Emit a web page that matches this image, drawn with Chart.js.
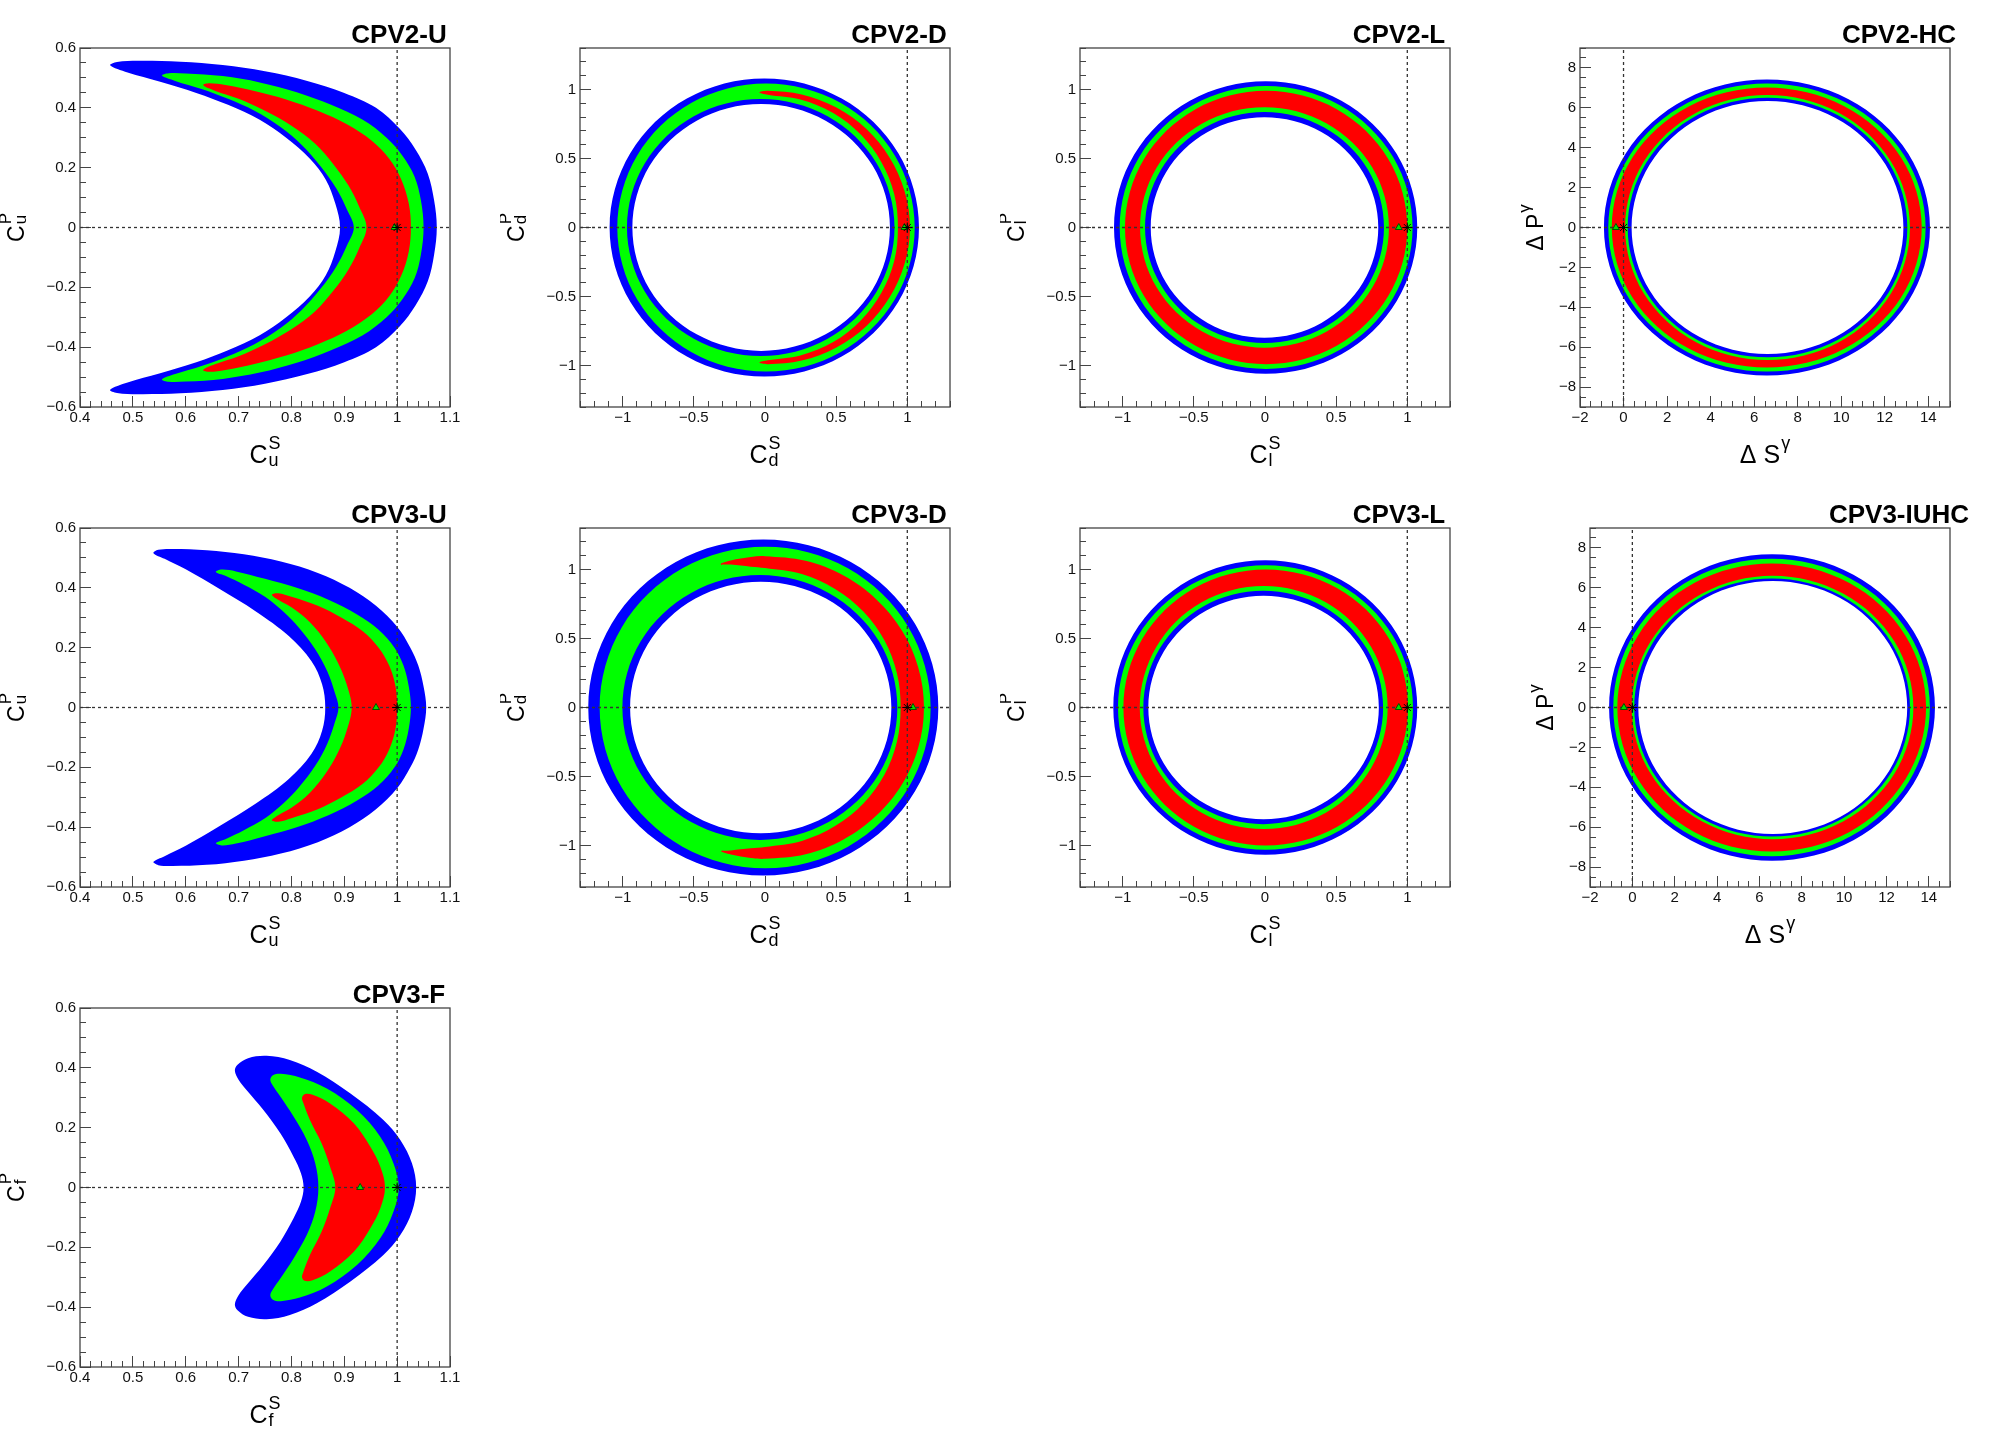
<!DOCTYPE html>
<html>
<head>
<meta charset="utf-8">
<script src="https://cdn.jsdelivr.net/npm/chart.js@4.4.1/dist/chart.umd.min.js"></script>
<style>
  body { margin: 0; background: #fff; width: 2000px; height: 1440px; position: relative; overflow: hidden; }
  canvas { position: absolute; }
</style>
</head>
<body>
<script>
// Contour outlines. Each array is the upper half (y >= 0) of one
// boundary; the plots are symmetric in y, so the lower half is its mirror image.
// Crescents: outer edge from y=0 up to the tip, then the inner edge back down to y=0.
// Rings: ellipse-like boundary from the right (y=0) over the top to the left (y=0).

// CPV2-U
const u2Blue = [[1.075,0],[1.07,0.09],[1.058,0.18],[1.035,0.26],[1.005,0.33],[0.96,0.40],[0.90,0.45],[0.83,0.49],[0.75,0.522],[0.67,0.543],[0.59,0.554],[0.51,0.557],[0.47,0.553],[0.457,0.542],
  [0.49,0.518],[0.55,0.488],[0.62,0.45],[0.68,0.41],[0.74,0.36],[0.79,0.30],[0.835,0.23],[0.865,0.16],[0.883,0.08],[0.892,0]]
const u2Green = [[1.05,0],[1.045,0.09],[1.033,0.17],[1.01,0.24],[0.98,0.30],[0.935,0.36],[0.875,0.41],[0.81,0.452],[0.74,0.485],[0.67,0.506],[0.60,0.515],[0.568,0.516],[0.555,0.508],
  [0.58,0.49],[0.63,0.463],[0.68,0.43],[0.73,0.39],[0.78,0.335],[0.82,0.275],[0.855,0.205],[0.885,0.13],[0.905,0.06],[0.918,0]]
const u2Red = [[1.026,0],[1.022,0.08],[1.008,0.16],[0.985,0.23],[0.952,0.29],[0.905,0.345],[0.85,0.39],[0.79,0.428],[0.73,0.456],[0.675,0.476],[0.645,0.482],[0.633,0.476],
  [0.655,0.457],[0.70,0.43],[0.75,0.39],[0.80,0.34],[0.845,0.28],[0.88,0.21],[0.908,0.14],[0.928,0.07],[0.942,0]]

// CPV2-D
const d2BlueOut = [[1.082,0],[0.936,0.54],[0.539,0.935],[-0.005,1.08],[-0.549,0.935],[-0.946,0.54],[-1.092,0]]
const d2GreenOut = [[1.052,0],[0.912,0.522],[0.530,0.903],[0.007,1.043],[-0.516,0.903],[-0.898,0.522],[-1.038,0]]
const d2GreenIn = [[0.91,0],[0.784,0.465],[0.44,0.805],[-0.03,0.93],[-0.50,0.805],[-0.844,0.465],[-0.97,0]]
const d2Hole = [[0.878,0],[0.757,0.447],[0.426,0.774],[-0.027,0.894],[-0.48,0.774],[-0.811,0.447],[-0.932,0]]
const d2Red = [[1.019,0],[0.981,0.263],[0.876,0.506],[0.713,0.713],[0.502,0.869],[0.258,0.964],[0.02,0.99],[-0.04,0.978],
  [0.02,0.962],[0.248,0.927],[0.479,0.83],[0.673,0.673],[0.818,0.473],[0.908,0.243],[0.934,0]]

// CPV2-L
const l2BlueOut = [[1.07,0],[0.927,0.53],[0.537,0.918],[0.005,1.06],[-0.528,0.918],[-0.918,0.53],[-1.061,0]]
const l2GreenOut = [[1.037,0],[0.899,0.512],[0.523,0.887],[0.008,1.024],[-0.507,0.887],[-0.883,0.512],[-1.021,0]]
const l2RedOut = [[1.0,0],[0.867,0.495],[0.504,0.857],[0.008,0.99],[-0.488,0.857],[-0.851,0.495],[-0.984,0]]
const l2RedIn = [[0.871,0],[0.754,0.435],[0.434,0.753],[-0.004,0.87],[-0.441,0.753],[-0.761,0.435],[-0.878,0]]
const l2GreenIn = [[0.836,0],[0.724,0.418],[0.416,0.724],[-0.004,0.836],[-0.423,0.724],[-0.731,0.418],[-0.843,0]]
const l2Hole = [[0.796,0],[0.689,0.399],[0.396,0.691],[-0.004,0.798],[-0.403,0.691],[-0.696,0.399],[-0.803,0]]

// CPV2-HC
const h2BlueOut = [[14.08,0],[13.08,3.71],[10.34,6.43],[6.59,7.42],[2.85,6.43],[0.10,3.71],[-0.90,0]]
const h2GreenOut = [[13.88,0],[12.90,3.61],[10.24,6.25],[6.59,7.22],[2.95,6.25],[0.28,3.61],[-0.70,0]]
const h2RedOut = [[13.70,0],[12.75,3.51],[10.14,6.08],[6.58,7.02],[3.02,6.08],[0.41,3.51],[-0.54,0]]
const h2RedIn = [[13.16,0],[12.28,3.32],[9.89,5.75],[6.61,6.64],[3.34,5.75],[0.94,3.32],[0.07,0]]
const h2GreenIn = [[13.04,0],[12.18,3.26],[9.83,5.64],[6.62,6.51],[3.40,5.64],[1.05,3.26],[0.19,0]]
const h2Hole = [[12.86,0],[12.03,3.17],[9.74,5.49],[6.62,6.34],[3.50,5.49],[1.21,3.17],[0.37,0]]

// CPV3-U
const u3Blue = [[1.055,0],[1.05,0.07],[1.04,0.14],[1.025,0.2],[1.0,0.27],[0.96,0.34],[0.91,0.40],[0.85,0.45],[0.78,0.488],[0.71,0.512],[0.64,0.526],[0.575,0.53],[0.548,0.527],[0.539,0.516],
  [0.56,0.497],[0.60,0.462],[0.665,0.395],[0.732,0.322],[0.795,0.239],[0.838,0.155],[0.858,0.078],[0.864,0]]
const u3Green = [[1.026,0],[1.022,0.07],[1.012,0.14],[0.995,0.2],[0.965,0.26],[0.925,0.31],[0.87,0.36],[0.81,0.40],[0.75,0.43],[0.695,0.455],[0.668,0.461],[0.657,0.453],
  [0.675,0.44],[0.71,0.41],[0.75,0.37],[0.785,0.32],[0.815,0.265],[0.845,0.195],[0.868,0.12],[0.882,0.05],[0.889,0]]
const u3Red = [[1.0,0],[0.997,0.07],[0.985,0.14],[0.965,0.2],[0.935,0.255],[0.895,0.3],[0.85,0.34],[0.80,0.37],[0.775,0.382],[0.763,0.377],
  [0.775,0.36],[0.80,0.335],[0.835,0.285],[0.865,0.22],[0.888,0.15],[0.904,0.08],[0.914,0]]

// CPV3-D
const d3BlueOut = [[1.218,0],[1.053,0.609],[0.603,1.054],[-0.012,1.217],[-0.627,1.054],[-1.077,0.609],[-1.242,0]]
const d3GreenOut = [[1.164,0],[1.008,0.582],[0.583,1.008],[0.001,1.164],[-0.58,1.008],[-1.006,0.582],[-1.162,0]]
const d3GreenIn = [[0.93,0],[0.801,0.48],[0.447,0.83],[-0.036,0.959],[-0.519,0.83],[-0.873,0.48],[-1.002,0]]
const d3Hole = [[0.888,0],[0.765,0.456],[0.429,0.789],[-0.03,0.911],[-0.489,0.789],[-0.825,0.456],[-0.948,0]]
const d3Red = [[1.117,0],[1.077,0.289],[0.963,0.556],[0.783,0.783],[0.552,0.956],[0.285,1.063],[0,1.096],[-0.1,1.09],[-0.24,1.065],[-0.311,1.04],
  [-0.24,1.035],[-0.1,1.02],[0,1.01],[0.259,0.966],[0.495,0.857],[0.693,0.693],[0.84,0.485],[0.927,0.248],[0.953,0]]

// CPV3-L
const l3BlueOut = [[1.07,0],[0.927,0.534],[0.536,0.924],[0.002,1.067],[-0.532,0.924],[-0.923,0.534],[-1.066,0]]
const l3GreenOut = [[1.04,0],[0.9,0.516],[0.522,0.893],[0.004,1.031],[-0.515,0.893],[-0.894,0.516],[-1.033,0]]
const l3RedOut = [[1.005,0],[0.871,0.5],[0.505,0.866],[0.005,1.0],[-0.495,0.866],[-0.861,0.5],[-0.995,0]]
const l3RedIn = [[0.862,0],[0.745,0.44],[0.427,0.762],[-0.009,0.88],[-0.445,0.762],[-0.763,0.44],[-0.88,0]]
const l3GreenIn = [[0.83,0],[0.717,0.423],[0.409,0.732],[-0.013,0.845],[-0.434,0.732],[-0.742,0.423],[-0.855,0]]
const l3Hole = [[0.80,0],[0.691,0.405],[0.395,0.701],[-0.01,0.81],[-0.415,0.701],[-0.711,0.405],[-0.82,0]]

// CPV3-IUHC
const h3BlueOut = [[14.29,0],[13.26,3.85],[10.44,6.66],[6.60,7.69],[2.75,6.66],[-0.07,3.85],[-1.10,0]]
const h3GreenOut = [[14.05,0],[13.05,3.73],[10.31,6.46],[6.58,7.46],[2.84,6.46],[0.10,3.73],[-0.90,0]]
const h3RedOut = [[13.87,0],[12.89,3.61],[10.23,6.25],[6.58,7.22],[2.94,6.25],[0.27,3.61],[-0.71,0]]
const h3RedIn = [[13.27,0],[12.38,3.31],[9.95,5.72],[6.62,6.61],[3.30,5.72],[0.86,3.31],[-0.03,0]]
const h3GreenIn = [[13.11,0],[12.24,3.24],[9.86,5.60],[6.60,6.47],[3.35,5.60],[0.96,3.24],[0.09,0]]
const h3Hole = [[12.98,0],[12.13,3.17],[9.81,5.49],[6.63,6.34],[3.46,5.49],[1.13,3.17],[0.28,0]]

// CPV3-F
const f3Blue = [[1.036,0],[1.028,0.081],[1.006,0.159],[0.974,0.226],[0.911,0.315],[0.848,0.387],[0.797,0.426],[0.753,0.44],[0.718,0.432],[0.698,0.41],[0.693,0.39],
  [0.70,0.36],[0.715,0.326],[0.747,0.259],[0.779,0.181],[0.804,0.103],[0.818,0.048],[0.823,0]]
const f3Green = [[1.003,0],[0.993,0.081],[0.968,0.17],[0.924,0.259],[0.867,0.331],[0.816,0.368],[0.78,0.38],[0.765,0.375],[0.76,0.36],
  [0.765,0.34],[0.779,0.304],[0.804,0.237],[0.829,0.159],[0.845,0.081],[0.851,0]]
const f3Red = [[0.977,0],[0.968,0.07],[0.949,0.137],[0.918,0.215],[0.873,0.281],[0.84,0.31],[0.825,0.312],[0.82,0.3],
  [0.822,0.285],[0.835,0.226],[0.857,0.148],[0.873,0.07],[0.883,0]]

// best-fit points (green triangles) and SM points (stars), panel order
const bestFitX = [0.995, 0.98, 0.94, -0.35, 0.96, 1.04, 0.94, -0.4, 0.93]
const bestFitY = [0, 0, 0, 0, 0, 0, 0, 0, 0]
const smX = [1, 1, 1, 0, 1, 1, 1, 0, 1]
const smY = [0, 0, 0, 0, 0, 0, 0, 0, 0]

// tick labels
const uTicksX = [0.4, 0.5, 0.6, 0.7, 0.8, 0.9, 1, 1.1]
const uTicksY = [-0.6, -0.4, -0.2, 0, 0.2, 0.4, 0.6]
const dTicks = [-1, -0.5, 0, 0.5, 1]
const hTicksX = [-2, 0, 2, 4, 6, 8, 10, 12, 14]
const hTicksY = [-8, -6, -4, -2, 0, 2, 4, 6, 8]

const FONT = '"Liberation Sans", Arial, Helvetica, sans-serif'
const BLUE = '#0000ff', GREEN = '#00ff00', RED = '#ff0000', WHITE = '#ffffff'

// axis range, minor step, major tick list
const axisKinds = {
  u: { x: [0.4, 1.1], xm: 0.02, xt: uTicksX, y: [-0.6, 0.6], ym: 0.05, yt: uTicksY },
  d: { x: [-1.3, 1.3], xm: 0.1, xt: dTicks, y: [-1.3, 1.3], ym: 0.1, yt: dTicks },
  h: { x: [-2, 15], xm: 0.5, xt: hTicksX, y: [-9, 9], ym: 0.5, yt: hTicksY },
}

const ringLayers = (bo, go, ro, ri, gi, ho) => [[bo, BLUE], [go, GREEN], [ro, RED], [ri, GREEN], [gi, BLUE], [ho, WHITE]]

const panels = [
  { title: 'CPV2-U', col: 0, row: 0, kind: 'u', left: 80, ytX: 24,
    layers: [[u2Blue, BLUE], [u2Green, GREEN], [u2Red, RED]],
    xl: { main: 'C', sub: 'u', sup: 'S' }, yl: { main: 'C', sub: 'u', sup: 'P' } },
  { title: 'CPV2-D', col: 1, row: 0, kind: 'd', left: 80, ytX: 24,
    layers: [[d2BlueOut, BLUE], [d2GreenOut, GREEN], [d2GreenIn, BLUE], [d2Hole, WHITE], [d2Red, RED]],
    xl: { main: 'C', sub: 'd', sup: 'S' }, yl: { main: 'C', sub: 'd', sup: 'P' } },
  { title: 'CPV2-L', col: 2, row: 0, kind: 'd', left: 80, ytX: 24,
    layers: ringLayers(l2BlueOut, l2GreenOut, l2RedOut, l2RedIn, l2GreenIn, l2Hole),
    xl: { main: 'C', sub: 'l', sup: 'S' }, yl: { main: 'C', sub: 'l', sup: 'P' } },
  { title: 'CPV2-HC', col: 3, row: 0, kind: 'h', left: 80, ytX: 43,
    layers: ringLayers(h2BlueOut, h2GreenOut, h2RedOut, h2RedIn, h2GreenIn, h2Hole),
    xl: { main: '\u0394 S', sup: '\u03b3' }, yl: { main: '\u0394 P', sup: '\u03b3' } },
  { title: 'CPV3-U', col: 0, row: 1, kind: 'u', left: 80, ytX: 24,
    layers: [[u3Blue, BLUE], [u3Green, GREEN], [u3Red, RED]],
    xl: { main: 'C', sub: 'u', sup: 'S' }, yl: { main: 'C', sub: 'u', sup: 'P' } },
  { title: 'CPV3-D', col: 1, row: 1, kind: 'd', left: 80, ytX: 24,
    layers: [[d3BlueOut, BLUE], [d3GreenOut, GREEN], [d3GreenIn, BLUE], [d3Hole, WHITE], [d3Red, RED]],
    xl: { main: 'C', sub: 'd', sup: 'S' }, yl: { main: 'C', sub: 'd', sup: 'P' } },
  { title: 'CPV3-L', col: 2, row: 1, kind: 'd', left: 80, ytX: 24,
    layers: ringLayers(l3BlueOut, l3GreenOut, l3RedOut, l3RedIn, l3GreenIn, l3Hole),
    xl: { main: 'C', sub: 'l', sup: 'S' }, yl: { main: 'C', sub: 'l', sup: 'P' } },
  { title: 'CPV3-IUHC', col: 3, row: 1, kind: 'h', left: 90, ytX: 53,
    layers: ringLayers(h3BlueOut, h3GreenOut, h3RedOut, h3RedIn, h3GreenIn, h3Hole),
    xl: { main: '\u0394 S', sup: '\u03b3' }, yl: { main: '\u0394 P', sup: '\u03b3' } },
  { title: 'CPV3-F', col: 0, row: 2, kind: 'u', left: 80, ytX: 24,
    layers: [[f3Blue, BLUE], [f3Green, GREEN], [f3Red, RED]],
    xl: { main: 'C', sub: 'f', sup: 'S' }, yl: { main: 'C', sub: 'f', sup: 'P' } },
]

// upper half -> closed loop (mirror in y), plus three repeated points so the spline closes smoothly
function loop(half) {
  const top = half.map(([x, y]) => ({ x, y }))
  const bottom = half.slice(1, -1).reverse().map(([x, y]) => ({ x, y: -y }))
  const pts = top.concat(bottom)
  return pts.concat(pts.slice(0, 3))
}

const fmt = v => String(+Number(v).toFixed(3)).replace('-', '\u2212')

function scriptText(ctx, t, size, cx, base) {
  const small = Math.round(size * 0.72)
  ctx.font = `${size}px ${FONT}`
  const wMain = ctx.measureText(t.main).width
  ctx.font = `${small}px ${FONT}`
  const wSub = t.sub ? ctx.measureText(t.sub).width : 0
  const wSup = t.sup ? ctx.measureText(t.sup).width : 0
  const x0 = cx - (wMain + 1 + Math.max(wSub, wSup)) / 2
  ctx.textAlign = 'left'
  ctx.textBaseline = 'alphabetic'
  ctx.font = `${size}px ${FONT}`
  ctx.fillText(t.main, x0, base)
  ctx.font = `${small}px ${FONT}`
  if (t.sup) ctx.fillText(t.sup, x0 + wMain + 1, base - size * 0.55)
  if (t.sub) ctx.fillText(t.sub, x0 + wMain + 1, base + size * 0.1)
}

function drawDecor(chart, p) {
  const { ctx, chartArea: a } = chart
  ctx.save()
  ctx.strokeStyle = '#444'
  ctx.lineWidth = 1.3
  ctx.strokeRect(a.left, a.top, a.right - a.left, a.bottom - a.top)
  ctx.fillStyle = '#000'
  ctx.font = `bold 26px ${FONT}`
  ctx.textAlign = 'center'
  ctx.textBaseline = 'alphabetic'
  ctx.fillText(p.title, 399, 43)
  scriptText(ctx, p.xl, 25, (a.left + a.right) / 2, 463)
  ctx.translate(p.ytX, (a.top + a.bottom) / 2)
  ctx.rotate(-Math.PI / 2)
  scriptText(ctx, p.yl, 23, 0, 0)
  ctx.restore()
}

function majorAxis(axis, range, ticks, size, pos) {
  return {
    type: 'linear', axis, position: pos, weight: 1, min: range[0], max: range[1],
    afterBuildTicks: s => { s.ticks = ticks.map(v => ({ value: v })) },
    afterFit: s => { if (axis === 'x') s.height = size; else s.width = size },
    grid: { drawOnChartArea: false, drawTicks: true, tickLength: -11, color: '#444', lineWidth: 1 },
    border: { display: false },
    ticks: {
      autoSkip: false, maxRotation: 0, minRotation: 0, padding: axis === 'x' ? 13 : 15,
      color: '#111', font: { family: FONT, size: 15 }, callback: fmt,
    },
  }
}

function minorAxis(axis, range, step, pos) {
  return {
    type: 'linear', axis, position: pos, weight: 0, min: range[0], max: range[1],
    afterFit: s => { if (axis === 'x') s.height = 0; else s.width = 0 },
    grid: { drawOnChartArea: false, drawTicks: true, tickLength: -6, color: '#444', lineWidth: 1 },
    border: { display: false },
    ticks: { display: false, stepSize: step, autoSkip: false },
  }
}

panels.forEach((p, i) => {
  const ax = axisKinds[p.kind]
  const refX = p.kind === 'h' ? 0 : 1
  const sets = []

  p.layers.forEach(([half, color]) => {
    sets.push({
      data: loop(half), showLine: true, fill: 'shape', backgroundColor: color, borderColor: color,
      borderWidth: 0, pointRadius: 0, pointHoverRadius: 0, tension: 0.35,
    })
  })

  // dotted reference lines
  const ref = { showLine: true, fill: false, borderColor: '#333', borderWidth: 1.3, borderDash: [3, 3], pointRadius: 0, tension: 0 }
  sets.push({ ...ref, data: [{ x: ax.x[0], y: 0 }, { x: ax.x[1], y: 0 }] })
  sets.push({ ...ref, data: [{ x: refX, y: ax.y[0] }, { x: refX, y: ax.y[1] }] })

  sets.push({
    data: [{ x: bestFitX[i], y: bestFitY[i] }], showLine: false, pointStyle: 'triangle',
    pointRadius: 4, backgroundColor: '#00dd00', borderColor: '#005500', borderWidth: 1,
  })
  sets.push({
    data: [{ x: smX[i], y: smY[i] }], showLine: false, pointStyle: 'star',
    pointRadius: 5, backgroundColor: 'transparent', borderColor: '#000', borderWidth: 1,
  })

  // bottom layer first in the list -> highest order (drawn first)
  sets.forEach((s, k) => { s.order = sets.length - k })

  const cv = document.createElement('canvas')
  cv.width = 500
  cv.height = 480
  cv.style.left = (p.col * 500) + 'px'
  cv.style.top = (p.row * 480) + 'px'
  document.body.appendChild(cv)

  new Chart(cv, {
    type: 'scatter',
    data: { datasets: sets },
    options: {
      responsive: false,
      devicePixelRatio: 1,
      animation: false,
      events: [],
      layout: { padding: { left: 0, top: 48, right: 50, bottom: 0 } },
      plugins: { legend: { display: false }, tooltip: { enabled: false } },
      scales: {
        x: majorAxis('x', ax.x, ax.xt, 73, 'bottom'),
        xm: minorAxis('x', ax.x, ax.xm, 'bottom'),
        y: majorAxis('y', ax.y, ax.yt, p.left, 'left'),
        ym: minorAxis('y', ax.y, ax.ym, 'left'),
      },
    },
    plugins: [{ id: 'decor', afterDraw: chart => drawDecor(chart, p) }],
  })
})
</script>
</body>
</html>
